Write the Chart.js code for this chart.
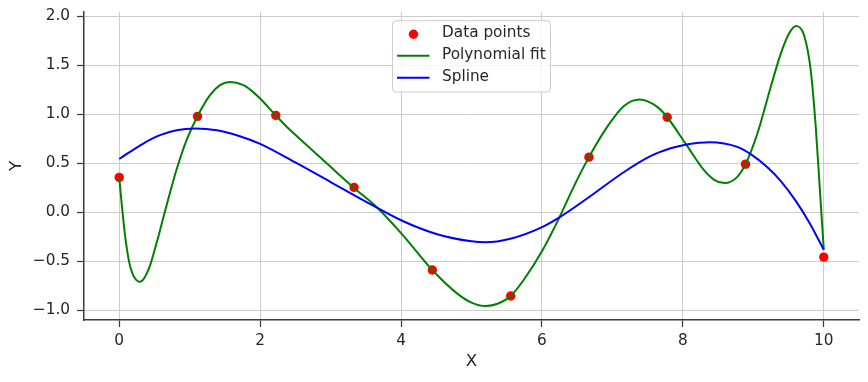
<!DOCTYPE html>
<html>
<head>
<meta charset="utf-8">
<script src="https://cdn.jsdelivr.net/npm/chart.js@4"></script>
<style>
html,body{margin:0;padding:0;background:#ffffff;}
#c{display:block;}
</style>
</head>
<body>
<canvas id="c" width="868" height="382"></canvas>
<script>
// ---- data ----
const dataX = [0, 1.111, 2.222, 3.333, 4.444, 5.556, 6.667, 7.778, 8.889, 10];
const dataY = [0.357, 0.98, 0.99, 0.255, -0.588, -0.853, 0.564, 0.971, 0.492, -0.456];

const polyX = [0, 0.024, 0.05, 0.08, 0.11, 0.142, 0.18, 0.22, 0.26, 0.294, 0.34, 0.39, 0.44, 0.46, 0.5, 0.56, 0.645, 0.73, 0.815, 0.957, 1.111, 1.289, 1.43, 1.574, 1.762, 1.88, 2.0, 2.222, 2.426, 2.71, 3.0, 3.333, 3.667, 4.013, 4.444, 4.794, 5.0, 5.2, 5.38, 5.556, 5.74, 6.01, 6.248, 6.45, 6.667, 6.926, 7.16, 7.385, 7.636, 7.778, 8.053, 8.3, 8.45, 8.593, 8.773, 8.889, 9.058, 9.247, 9.39, 9.507, 9.607, 9.72, 9.815, 9.886, 9.948, 10];
const polyY = [0.357, 0.17, -0.02, -0.22, -0.38, -0.51, -0.61, -0.67, -0.70, -0.707, -0.685, -0.625, -0.535, -0.49, -0.39, -0.235, 0.0, 0.225, 0.44, 0.74, 0.982, 1.196, 1.298, 1.331, 1.298, 1.24, 1.162, 0.99, 0.84, 0.655, 0.465, 0.25, 0.045, -0.221, -0.588, -0.826, -0.92, -0.955, -0.93, -0.853, -0.69, -0.384, -0.051, 0.261, 0.564, 0.873, 1.084, 1.152, 1.077, 0.971, 0.686, 0.431, 0.33, 0.299, 0.363, 0.492, 0.805, 1.28, 1.62, 1.825, 1.902, 1.807, 1.45, 0.873, 0.194, -0.38];

const splineX = [0, 0.341, 0.578, 0.815, 1.076, 1.384, 1.668, 2.0, 2.5, 3.0, 3.5, 4.0, 4.5, 5.0, 5.2, 5.55, 6.01, 6.248, 6.685, 7.16, 7.54, 7.826, 8.053, 8.384, 8.773, 8.963, 9.2, 9.39, 9.6, 9.8, 10];
const splineY = [0.545, 0.703, 0.788, 0.839, 0.856, 0.839, 0.788, 0.70, 0.51, 0.31, 0.11, -0.08, -0.22, -0.295, -0.305, -0.269, -0.147, -0.051, 0.165, 0.41, 0.574, 0.654, 0.694, 0.717, 0.669, 0.594, 0.46, 0.32, 0.12, -0.11, -0.38];

const xTicks = [0, 2, 4, 6, 8, 10];
const yTicks = [-1.0, -0.5, 0.0, 0.5, 1.0, 1.5, 2.0];
const seriesLabels = ['Data points', 'Polynomial fit', 'Spline'];
const xTitle = 'X';
const yTitle = 'Y';

// ---- styling ----
const TXT = '#262626';
const GRID = '#cccccc';
const FONT = 'DejaVu Sans';

function pts(xs, ys){ return xs.map((x,i)=>({x:x, y:ys[i]})); }

const legendPlugin = {
  id: 'mplLegend',
  afterDraw(chart){
    const ctx = chart.ctx;
    const ca = chart.chartArea;
    const w = 158, h = 71.3;
    const left = (ca.left + ca.right)/2 - w/2;
    const top = ca.top + 8.7;
    ctx.save();
    const r = 3.5;
    ctx.beginPath();
    ctx.moveTo(left + r, top);
    ctx.lineTo(left + w - r, top);
    ctx.arcTo(left + w, top, left + w, top + r, r);
    ctx.lineTo(left + w, top + h - r);
    ctx.arcTo(left + w, top + h, left + w - r, top + h, r);
    ctx.lineTo(left + r, top + h);
    ctx.arcTo(left, top + h, left, top + h - r, r);
    ctx.lineTo(left, top + r);
    ctx.arcTo(left, top, left + r, top, r);
    ctx.closePath();
    ctx.fillStyle = 'rgba(255,255,255,0.8)';
    ctx.fill();
    ctx.strokeStyle = GRID;
    ctx.lineWidth = 1;
    ctx.stroke();
    const ds = chart.data.datasets;
    const rowY = [top + 13, top + 35, top + 57];
    ctx.font = '15.3px "' + FONT + '"';
    ctx.textBaseline = 'middle';
    ctx.textAlign = 'left';
    ds.forEach((d, i) => {
      const y = rowY[i];
      if (!d.showLine) {
        ctx.beginPath();
        ctx.arc(left + 21, y + 0.5, 4.7, 0, Math.PI*2);
        ctx.fillStyle = d.backgroundColor;
        ctx.fill();
      } else {
        ctx.beginPath();
        ctx.moveTo(left + 4.5, y);
        ctx.lineTo(left + 37, y);
        ctx.strokeStyle = d.borderColor;
        ctx.lineWidth = 2;
        ctx.stroke();
      }
      ctx.fillStyle = TXT;
      ctx.fillText(d.label, left + 49.5, y - 0.5);
    });
    ctx.restore();
  }
};

const fmtY = v => (v < 0 ? '\u2212' : '') + Math.abs(v).toFixed(1);
const fmtX = v => (v < 0 ? '\u2212' : '') + String(Math.abs(v));

new Chart(document.getElementById('c'), {
  type: 'scatter',
  data: {
    datasets: [
      {
        label: seriesLabels[0],
        data: pts(dataX, dataY),
        backgroundColor: '#ff0000',
        borderColor: '#ff0000',
        pointRadius: 4.7,
        pointBorderWidth: 0,
        showLine: false,
        order: 3
      },
      {
        label: seriesLabels[1],
        data: pts(polyX, polyY),
        borderColor: '#008000',
        backgroundColor: '#008000',
        borderWidth: 2,
        pointRadius: 0,
        showLine: true,
        cubicInterpolationMode: 'monotone',
        order: 2
      },
      {
        label: seriesLabels[2],
        data: pts(splineX, splineY),
        borderColor: '#0000ff',
        backgroundColor: '#0000ff',
        borderWidth: 2,
        pointRadius: 0,
        showLine: true,
        cubicInterpolationMode: 'monotone',
        order: 1
      }
    ]
  },
  options: {
    responsive: false,
    animation: false,
    devicePixelRatio: 1,
    layout: { padding: { top: 12, right: 9, left: 0, bottom: 0 } },
    plugins: { legend: { display: false }, tooltip: { enabled: false } },
    scales: {
      x: {
        type: 'linear',
        min: -0.5,
        max: 10.5,
        afterFit(scale){ scale.height = 62; scale.paddingLeft = 0; scale.paddingRight = 0; },
        afterBuildTicks(scale){ scale.ticks = xTicks.map(v => ({value: v})); },
        ticks: {
          callback: v => fmtX(v),
          color: TXT,
          font: { family: FONT, size: 15.3 },
          padding: 5,
          maxRotation: 0,
          autoSkip: false
        },
        grid: { color: GRID, lineWidth: 1, tickColor: '#3a3a3a', tickLength: 7, tickWidth: 1.25 },
        border: { display: true, color: '#3a3a3a', width: 1.5 },
        title: { display: true, text: xTitle, color: TXT, font: { family: FONT, size: 16.7 }, padding: { top: 0, bottom: 10 } }
      },
      y: {
        type: 'linear',
        min: -1.098,
        max: 2.045,
        afterFit(scale){ scale.width = 84; scale.paddingTop = 0; scale.paddingBottom = 0; },
        afterBuildTicks(scale){ scale.ticks = yTicks.map(v => ({value: v})); },
        ticks: {
          callback: v => fmtY(v),
          color: TXT,
          font: { family: FONT, size: 15.3 },
          padding: 7,
          autoSkip: false
        },
        grid: { color: GRID, lineWidth: 1, tickColor: '#3a3a3a', tickLength: 7, tickWidth: 1.25 },
        border: { display: true, color: '#3a3a3a', width: 1.5 },
        title: { display: true, text: yTitle, color: TXT, font: { family: FONT, size: 16.7 }, padding: { top: 7, bottom: 0 } }
      }
    }
  },
  plugins: [legendPlugin]
});
</script>
</body>
</html>
